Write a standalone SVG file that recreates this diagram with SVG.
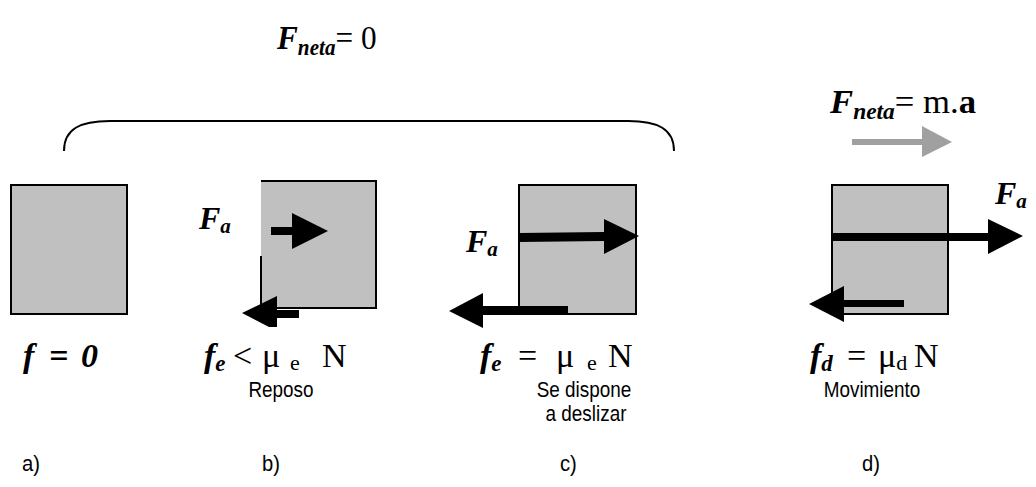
<svg xmlns="http://www.w3.org/2000/svg" width="1036" height="487" viewBox="0 0 1036 487">
<style>
.box{fill:#c0c0c0;stroke:#000;stroke-width:2}
.tb{font-family:"Liberation Serif","Times New Roman",serif;font-weight:bold;font-style:italic;fill:#000}
.tr{font-family:"Liberation Serif","Times New Roman",serif;fill:#000}
.ts{font-family:"Liberation Sans",Arial,sans-serif;font-size:22px;fill:#000}
.ar{fill:#000}
</style>
<rect width="1036" height="487" fill="#fff"/>
<g id="title">
<text transform="translate(277,49) scale(0.92,1)" font-size="34"><tspan class="tb">F</tspan><tspan class="tb" font-size="23" dy="6">neta</tspan><tspan class="tr" dy="-6">= 0</tspan></text>
<path d="M64,151 C64,129 80,121 110,121 L628,121 C658,121 674,129 674,151" fill="none" stroke="#000" stroke-width="2"/>
</g>
<g id="title2">
<text transform="translate(830,113) scale(1.02,1)" font-size="34"><tspan class="tb">F</tspan><tspan class="tb" font-size="23" dy="6">neta</tspan><tspan class="tr" dy="-6">= m.</tspan><tspan class="tr" font-weight="bold">a</tspan></text>
<polygon points="852,139 922,139 922,126 952,142 922,157 922,145 852,145" fill="#a0a0a0"/>
</g>
<g id="node-a">
<rect class="box" x="11" y="185" width="116" height="129"/>
<text y="367" font-size="34" class="tb"><tspan x="23">f</tspan><tspan x="49">=</tspan><tspan x="81">0</tspan></text>
<text transform="translate(22,471) scale(0.92,1)" class="ts">a)</text>
</g>
<g id="node-b">
<rect x="261" y="181" width="115" height="127" fill="#c0c0c0"/>
<path d="M261,181 H376 V308 H261 M261,256 V308" fill="none" stroke="#000" stroke-width="2"/>
<text x="199" y="229" class="tb" font-size="32">F<tspan font-size="21" dy="4">a</tspan></text>
<text y="367" font-size="34"><tspan class="tb" x="204">f</tspan><tspan class="tb" font-size="23" dy="4">e</tspan><tspan class="tr" x="233" dy="-4">&lt;</tspan><tspan class="tr" x="262">μ</tspan><tspan class="tr" font-size="22" x="290" dy="3">e</tspan><tspan class="tr" x="322" dy="-3">N</tspan></text>
<text transform="translate(281,397) scale(0.86,1)" class="ts" text-anchor="middle">Reposo</text>
<text transform="translate(262,471) scale(0.92,1)" class="ts">b)</text>
</g>
<g id="node-c">
<rect class="box" x="519" y="185" width="117" height="129"/>
<text x="466" y="252" class="tb" font-size="32">F<tspan font-size="21" dy="4">a</tspan></text>
<text y="367" font-size="34"><tspan class="tb" x="480">f</tspan><tspan class="tb" font-size="23" dy="4">e</tspan><tspan class="tr" x="518" dy="-4">=</tspan><tspan class="tr" x="556">μ</tspan><tspan class="tr" font-size="22" x="587" dy="3">e</tspan><tspan class="tr" x="608" dy="-3">N</tspan></text>
<text transform="translate(584,397) scale(0.86,1)" class="ts" text-anchor="middle">Se dispone</text>
<text transform="translate(586,421) scale(0.86,1)" class="ts" text-anchor="middle">a deslizar</text>
<text transform="translate(560,471) scale(0.92,1)" class="ts">c)</text>
</g>
<g id="node-d">
<rect class="box" x="832" y="185" width="116" height="129"/>
<text x="995" y="204" class="tb" font-size="32">F<tspan font-size="21" dy="4">a</tspan></text>
<text y="367" font-size="34"><tspan class="tb" x="810">f</tspan><tspan class="tb" font-size="23" dy="4">d</tspan><tspan class="tr" x="847" dy="-4">=</tspan><tspan class="tr" x="878">μ</tspan><tspan class="tr" font-size="22" dy="3">d</tspan><tspan class="tr" x="914" dy="-3">N</tspan></text>
<text transform="translate(872,397) scale(0.86,1)" class="ts" text-anchor="middle">Movimiento</text>
<text transform="translate(862,471) scale(0.92,1)" class="ts">d)</text>
</g>
<g id="connectors">
<polygon class="ar" points="271,227 292,227 292,213 328,231 292,249 292,235 271,235"/>
<polygon class="ar" points="299,310 277,310 277,296 242,313 269,327 277,327 277,318 299,318"/>
<polygon class="ar" points="519,233 604,232 604,219 639,236 604,254 604,241 519,242"/>
<polygon class="ar" points="568,306 483,306 483,293 449,311 483,328 483,315 568,315"/>
<polygon class="ar" points="832,233 988,233 988,219 1023,236 988,254 988,241 832,241"/>
<polygon class="ar" points="904,300 844,300 844,286 809,304 844,322 844,307 904,307"/>
</g>
</svg>
